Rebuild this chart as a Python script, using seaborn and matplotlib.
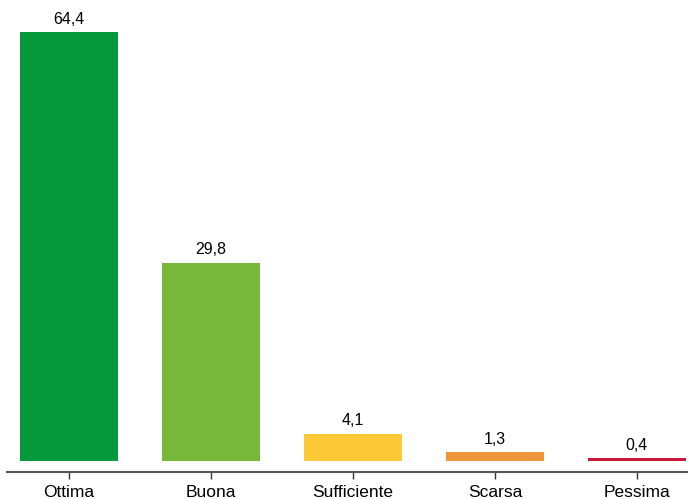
import pandas as pd
import matplotlib
matplotlib.use('Agg')
import matplotlib.pyplot as plt
import seaborn as sns

categories = ['Ottima', 'Buona', 'Sufficiente', 'Scarsa', 'Pessima']
values = [64.4, 29.8, 4.1, 1.3, 0.4]
labels = ['64,4', '29,8', '4,1', '1,3', '0,4']
colors = ['#06983C', '#77B73A', '#FEC937', '#F0963A', '#C8193A']

df = pd.DataFrame({'giudizio': categories, 'perc': values})

sns.set_style('white')
plt.rcParams['font.family'] = ['Liberation Sans', 'DejaVu Sans']

fig = plt.figure(figsize=(6.88, 4.99), dpi=100)
ax = fig.add_axes([0.0102, 0.054, 0.9898, 0.926])
sns.barplot(x='giudizio', y='perc', data=df, hue='giudizio', palette=colors,
            legend=False, width=0.69, saturation=1, linewidth=0, ax=ax)

for index, value in enumerate(values):
    ax.text(index, value + 0.8, labels[index], ha='center', va='bottom',
            fontsize=11.5, color='black')

ax.set_xlim(-0.437, 4.36)
ax.set_ylim(-1.65, 67.7)
ax.set_xlabel('')
ax.set_ylabel('')
ax.set_yticks([])
for s in ['top', 'right', 'left']:
    ax.spines[s].set_visible(False)
ax.spines['bottom'].set_color('#555555')
ax.spines['bottom'].set_linewidth(1.5)
ax.tick_params(axis='x', bottom=True, length=5, width=1, color='#333333',
               labelsize=12.5, labelcolor='black', pad=4)

fig.savefig('out.png', dpi=100)
